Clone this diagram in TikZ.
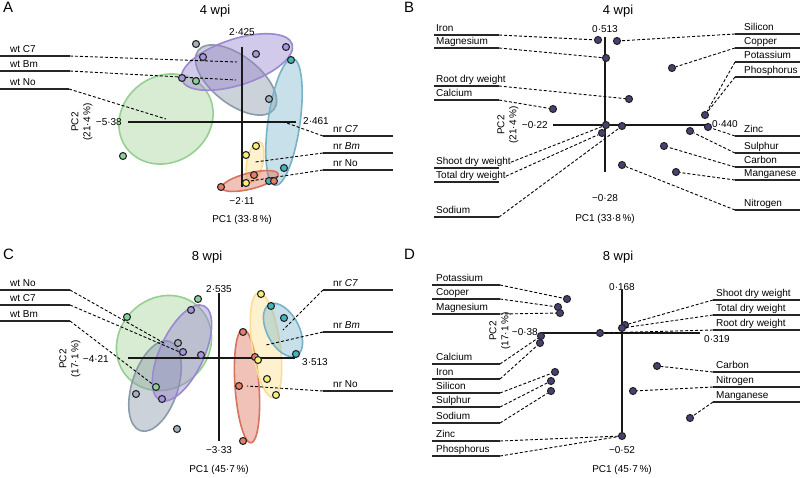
\documentclass[tikz,border=0pt]{standalone}
\usepackage{fontspec}
\setmainfont{Liberation Sans}
\definecolor{gE}{RGB}{150,208,145}
\definecolor{gF}{RGB}{160,212,150}
\definecolor{pE}{RGB}{155,135,210}
\definecolor{pF}{RGB}{150,130,205}
\definecolor{yE}{RGB}{140,155,168}
\definecolor{yF}{RGB}{135,150,165}
\definecolor{tE}{RGB}{120,178,200}
\definecolor{tF}{RGB}{125,182,205}
\definecolor{oE}{RGB}{250,222,150}
\definecolor{oF}{RGB}{252,222,140}
\definecolor{sE}{RGB}{215,115,95}
\definecolor{sF}{RGB}{222,110,85}
\definecolor{dP}{RGB}{165,150,225}
\definecolor{dT}{RGB}{70,180,190}
\definecolor{dG}{RGB}{135,210,150}
\definecolor{dY}{RGB}{245,240,120}
\definecolor{dS}{RGB}{230,125,105}
\definecolor{dR}{RGB}{165,178,190}
\definecolor{dN}{RGB}{70,65,115}
\newcommand{\ulabel}[6]{%
  \draw[uline] (#3,#5) coordinate (#1-s) -- (#4,#5) coordinate (#1-e);
  \node[lab, anchor=base west] (#1) at (#6,#5-3.2) {#2};}
\begin{document}
\begin{tikzpicture}[x=1pt,y=-1pt,
  lab/.style={font=\fontsize{10}{12}\selectfont, inner sep=0pt},
  ttl/.style={font=\fontsize{13}{15}\selectfont, inner sep=0pt},
  panlet/.style={font=\fontsize{15}{17}\selectfont, inner sep=0pt, anchor=north west},
  uline/.style={line width=2.2pt, draw=black!85},
  lead/.style={dash pattern=on 3pt off 2pt, line width=0.9pt},
  axisline/.style={line width=2pt, draw=black!90},
  ptdot/.style={circle, draw=black!85, line width=1.1pt, minimum size=7pt, inner sep=0pt},
  ell/.style={line width=1.6pt, fill opacity=0.42},
  pclab/.style={lab, align=center, rotate=90, font=\fontsize{10}{12}\selectfont},
]
\fill[white] (0,0) rectangle (800,477);
\useasboundingbox (0,0) rectangle (800,477);

% ================= Panel A =================
\node[panlet] (letA) at (3,2) {A};
\node[ttl] (ttlA) at (215,11) {4 wpi};
\coordinate (eAg) at (166,119);
\coordinate (eAp) at (237,62);
\coordinate (eAr) at (236,80);
\coordinate (eAt) at (284,122);
\coordinate (eAy) at (255,162);
\coordinate (eAs) at (250,181);
\path[ell, draw=gE, fill=gF, rotate around={35:(eAg)}] (eAg) ellipse [x radius=49pt, y radius=43pt];
\path[ell, draw=yE, fill=yF, rotate around={-38:(eAr)}] (eAr) ellipse [x radius=48pt, y radius=24pt];
\path[ell, draw=pE, fill=pF, rotate around={18:(eAp)}] (eAp) ellipse [x radius=58pt, y radius=23pt];
\path[ell, draw=tE, fill=tF, rotate around={-8:(eAt)}] (eAt) ellipse [x radius=16pt, y radius=64pt];
\path[ell, draw=oE, fill=oF, rotate around={-12:(eAy)}] (eAy) ellipse [x radius=8pt, y radius=21pt];
\path[ell, draw=sE, fill=sF, rotate around={14:(eAs)}] (eAs) ellipse [x radius=29pt, y radius=8pt];
\draw[axisline] (128,122) coordinate (axAl) -- (296,122) coordinate (axAr);
\draw[axisline] (242,47) coordinate (axAt) -- (242,187) coordinate (axAb);
\node[lab, anchor=east] (nAl) at (122,122) {−5·38};
\node[lab, anchor=west] (nAr) at (303,121) {2·461};
\node[lab, anchor=south] (nAt) at (242,36) {2·425};
\node[lab, anchor=north] (nAb) at (242,197) {−2·11};
\node[lab] (pc1A) at (242,220) {PC1 (33·8\,\%)};
\node[pclab] (pc2A) at (82,122) {PC2\\(21·4\,\%)};
\ulabel{wA7}{wt C7}{0}{70}{56}{10}
\ulabel{wAB}{wt Bm}{0}{70}{71}{10}
\ulabel{wAN}{wt No}{0}{69}{89}{10}
\ulabel{nA7}{nr \textit{C7}}{323}{393}{136}{333}
\ulabel{nAB}{nr \textit{Bm}}{323}{393}{153}{333}
\ulabel{nAN}{nr No}{323}{393}{170}{333}
\draw[lead] (wA7-e) -- (eAp);
\draw[lead] (wAB-e) -- (eAr);
\draw[lead] (wAN-e) -- (eAg);
\draw[lead] (nA7-s) -- (eAt);
\draw[lead] (nAB-s) -- (eAy);
\draw[lead] (nAN-s) -- (eAs);
\node[ptdot, fill=dR] (a1) at (196,44) {};
\node[ptdot, fill=dP] (a2) at (203,57) {};
\node[ptdot, fill=dP] (a3) at (256,54) {};
\node[ptdot, fill=dP] (a4) at (286,47) {};
\node[ptdot, fill=dT] (a5) at (291,60) {};
\node[ptdot, fill=dR] (a6) at (269,99) {};
\node[ptdot, fill=dP] (a7) at (182,78) {};
\node[ptdot, fill=dG] (a8) at (196,81) {};
\node[ptdot, fill=dG] (a9) at (123,156) {};
\node[ptdot, fill=dY] (a10) at (256,146) {};
\node[ptdot, fill=dY] (a11) at (246,155) {};
\node[ptdot, fill=dS] (a12) at (254,175) {};
\node[ptdot, fill=dY] (a13) at (246,183) {};
\node[ptdot, fill=dS] (a14) at (221,187) {};
\node[ptdot, fill=dT] (a15) at (269,181) {};
\node[ptdot, fill=dS] (a16) at (274,181) {};
\node[ptdot, fill=dT] (a17) at (284,168) {};

% ================= Panel B =================
\node[panlet] (letB) at (404,2) {B};
\node[ttl] (ttlB) at (618,11) {4 wpi};
\draw[axisline] (553,125) coordinate (axBl) -- (709,125) coordinate (axBr);
\draw[axisline] (605,37) coordinate (axBt) -- (605,172) coordinate (axBb);
\node[lab, anchor=east] (nBl) at (548,125) {−0·22};
\node[lab, anchor=west] (nBr) at (712,124) {0·440};
\node[lab, anchor=south] (nBt) at (605,33) {0·513};
\node[lab, anchor=north] (nBb) at (605,194) {−0·28};
\node[lab] (pc1B) at (605,219) {PC1 (33·8\,\%)};
\node[pclab] (pc2B) at (508,125) {PC2\\(21·4\,\%)};
\ulabel{bIron}{Iron}{434}{499}{35}{436}
\ulabel{bMag}{Magnesium}{434}{499}{48}{436}
\ulabel{bRoot}{Root dry weight}{434}{499}{86}{436}
\ulabel{bCal}{Calcium}{434}{499}{100}{436}
\ulabel{bShoot}{Shoot dry weight}{434}{499}{168}{436}
\ulabel{bTot}{Total dry weight}{434}{499}{182}{436}
\ulabel{bSod}{Sodium}{434}{499}{217}{436}
\ulabel{bSil}{Silicon}{735}{800}{34}{744}
\ulabel{bCop}{Copper}{735}{800}{48}{744}
\ulabel{bPot}{Potassium}{735}{800}{62}{744}
\ulabel{bPho}{Phosphorus}{735}{800}{77}{744}
\ulabel{bZn}{Zinc}{735}{800}{136}{744}
\ulabel{bSul}{Sulphur}{735}{800}{153}{744}
\ulabel{bCar}{Carbon}{735}{800}{167}{744}
\ulabel{bMan}{Manganese}{735}{800}{180}{744}
\ulabel{bNit}{Nitrogen}{735}{800}{210}{744}
\node[ptdot, fill=dN] (b1) at (598,40) {};
\node[ptdot, fill=dN] (b2) at (617,41) {};
\node[ptdot, fill=dN] (b3) at (606,58) {};
\node[ptdot, fill=dN] (b4) at (672,68) {};
\node[ptdot, fill=dN] (b5) at (629,99) {};
\node[ptdot, fill=dN] (b6) at (553,109) {};
\node[ptdot, fill=dN] (b7) at (705,115) {};
\node[ptdot, fill=dN] (b8) at (606,125) {};
\node[ptdot, fill=dN] (b9) at (602,133) {};
\node[ptdot, fill=dN] (b10) at (622,126) {};
\node[ptdot, fill=dN] (b11) at (690,131) {};
\node[ptdot, fill=dN] (b12) at (708,127) {};
\node[ptdot, fill=dN] (b13) at (664,146) {};
\node[ptdot, fill=dN] (b14) at (676,172) {};
\node[ptdot, fill=dN] (b15) at (622,165) {};
\draw[lead] (bIron-e) -- (b1);
\draw[lead] (bMag-e) -- (b3);
\draw[lead] (bRoot-e) -- (b5);
\draw[lead] (bCal-e) -- (b6);
\draw[lead] (bShoot.east) -- (b8);
\draw[lead] (bTot.east) -- (b9);
\draw[lead] (bSod-e) -- (b10);
\draw[lead] (bSil-s) -- (b2);
\draw[lead] (bCop-s) -- (b4);
\draw[lead] (bPot-s) -- (b7);
\draw[lead] (bPho-s) -- (b7);
\draw[lead] (bZn-s) -- (b12);
\draw[lead] (bSul-s) -- (b11);
\draw[lead] (bCar-s) -- (b13);
\draw[lead] (bMan-s) -- (b14);
\draw[lead] (bNit-s) -- (b15);

% ================= Panel C =================
\node[panlet] (letC) at (3,249) {C};
\node[ttl] (ttlC) at (207,257) {8 wpi};
\coordinate (eCg) at (164,343);
\coordinate (eCp) at (182,353);
\coordinate (eCr) at (155,386);
\coordinate (eCs) at (247,386);
\coordinate (eCy) at (266,345);
\coordinate (eCt) at (283,330);
\path[ell, draw=gE, fill=gF, rotate around={45:(eCg)}] (eCg) ellipse [x radius=50pt, y radius=45pt];
\path[ell, draw=yE, fill=yF, rotate around={72:(eCr)}] (eCr) ellipse [x radius=47pt, y radius=23pt];
\path[ell, draw=pE, fill=pF, rotate around={65:(eCp)}] (eCp) ellipse [x radius=52pt, y radius=22pt];
\path[ell, draw=sE, fill=sF, rotate around={4:(eCs)}] (eCs) ellipse [x radius=12pt, y radius=57pt];
\path[ell, draw=oE, fill=oF, rotate around={8:(eCy)}] (eCy) ellipse [x radius=14pt, y radius=53pt];
\path[ell, draw=tE, fill=tF, rotate around={28:(eCt)}] (eCt) ellipse [x radius=16pt, y radius=29pt];
\draw[axisline] (128,358) coordinate (axCl) -- (295,358) coordinate (axCr);
\draw[axisline] (219,293) coordinate (axCt) -- (219,441) coordinate (axCb);
\node[lab, anchor=east] (nCl) at (109,359) {−4·21};
\node[lab, anchor=west] (nCr) at (302,362) {3·513};
\node[lab, anchor=south] (nCt) at (219,293) {2·535};
\node[lab, anchor=north] (nCb) at (219,446) {−3·33};
\node[lab] (pc1C) at (219,470) {PC1 (45·7\,\%)};
\node[pclab] (pc2C) at (70,359) {PC2\\(17·1\,\%)};
\ulabel{wCN}{wt No}{0}{70}{290}{10}
\ulabel{wC7}{wt C7}{0}{70}{305}{10}
\ulabel{wCB}{wt Bm}{0}{70}{321}{10}
\ulabel{nC7}{nr \textit{C7}}{323}{393}{290}{333}
\ulabel{nCB}{nr \textit{Bm}}{323}{393}{332}{333}
\ulabel{nCN}{nr No}{323}{393}{391}{333}
\draw[lead] (wCN-e) -- (eCg);
\draw[lead] (wC7-e) -- (eCp);
\draw[lead] (wCB-e) -- (eCr);
\draw[lead] (nC7-s) -- (eCt);
\draw[lead] (nCB-s) -- (eCy);
\draw[lead] (nCN-s) -- (eCs);
\node[ptdot, fill=dG] (c1) at (127,317) {};
\node[ptdot, fill=dG] (c2) at (198,299) {};
\node[ptdot, fill=dP] (c3) at (191,310) {};
\node[ptdot, fill=dR] (c4) at (178,343) {};
\node[ptdot, fill=dP] (c5) at (183,352) {};
\node[ptdot, fill=dP] (c6) at (201,355) {};
\node[ptdot, fill=dG] (c7) at (156,387) {};
\node[ptdot, fill=dR] (c8) at (136,394) {};
\node[ptdot, fill=dP] (c9) at (162,399) {};
\node[ptdot, fill=dR] (c10) at (177,429) {};
\node[ptdot, fill=dY] (c11) at (261,294) {};
\node[ptdot, fill=dT] (c12) at (271,306) {};
\node[ptdot, fill=dT] (c13) at (284,318) {};
\node[ptdot, fill=dS] (c14) at (243,332) {};
\node[ptdot, fill=dT] (c15) at (296,354) {};
\node[ptdot, fill=dS] (c16) at (255,357) {};
\node[ptdot, fill=dY] (c17) at (258,360) {};
\node[ptdot, fill=dY] (c18) at (267,379) {};
\node[ptdot, fill=dS] (c19) at (239,386) {};
\node[ptdot, fill=dY] (c20) at (276,395) {};
\node[ptdot, fill=dS] (c21) at (243,441) {};

% ================= Panel D =================
\node[panlet] (letD) at (404,249) {D};
\node[ttl] (ttlD) at (618,257) {8 wpi};
\draw[axisline] (540,333) coordinate (axDl) -- (700,333) coordinate (axDr);
\draw[axisline] (622,290) coordinate (axDt) -- (622,440) coordinate (axDb);
\node[lab, anchor=east] (nDl) at (538,332) {−0·38};
\node[lab, anchor=west] (nDr) at (704,339) {0·319};
\node[lab, anchor=south] (nDt) at (622,291) {0·168};
\node[lab, anchor=north] (nDb) at (622,446) {−0·52};
\node[lab] (pc1D) at (622,470) {PC1 (45·7\,\%)};
\node[pclab] (pc2D) at (500,331) {PC2\\(17·1\,\%)};
\ulabel{dPot}{Potassium}{432}{500}{285}{436}
\ulabel{dCop}{Cooper}{432}{500}{299}{436}
\ulabel{dMag}{Magnesium}{432}{500}{314}{436}
\ulabel{dCal}{Calcium}{432}{500}{364}{436}
\ulabel{dIron}{Iron}{432}{500}{379}{436}
\ulabel{dSil}{Silicon}{432}{500}{393}{436}
\ulabel{dSul}{Sulphur}{432}{500}{407}{436}
\ulabel{dSod}{Sodium}{432}{500}{423}{436}
\ulabel{dZn}{Zinc}{432}{500}{441}{436}
\ulabel{dPho}{Phosphorus}{432}{500}{456}{436}
\ulabel{dShoot}{Shoot dry weight}{713}{800}{300}{716}
\ulabel{dTot}{Total dry weight}{713}{800}{315}{716}
\ulabel{dRoot}{Root dry weight}{713}{800}{330}{716}
\ulabel{dCar}{Carbon}{713}{800}{372}{716}
\ulabel{dNit}{Nitrogen}{713}{800}{387}{716}
\ulabel{dMan}{Manganese}{713}{800}{402}{716}
\node[ptdot, fill=dN] (d1) at (567,299) {};
\node[ptdot, fill=dN] (d2) at (558,307) {};
\node[ptdot, fill=dN] (d3) at (560,313) {};
\node[ptdot, fill=dN] (d4) at (541,336) {};
\node[ptdot, fill=dN] (d5) at (540,343) {};
\node[ptdot, fill=dN] (d6) at (555,372) {};
\node[ptdot, fill=dN] (d7) at (551,381) {};
\node[ptdot, fill=dN] (d8) at (551,391) {};
\node[ptdot, fill=dN] (d9) at (622,436) {};
\node[ptdot, fill=dN] (d10) at (625,325) {};
\node[ptdot, fill=dN] (d11) at (622,328) {};
\node[ptdot, fill=dN] (d12) at (600,333) {};
\node[ptdot, fill=dN] (d13) at (657,366) {};
\node[ptdot, fill=dN] (d14) at (633,391) {};
\node[ptdot, fill=dN] (d15) at (690,418) {};
\draw[lead] (dPot-e) -- (d1);
\draw[lead] (dCop-e) -- (d2);
\draw[lead] (dMag-e) -- (d3);
\draw[lead] (dCal-e) -- (d4);
\draw[lead] (dIron-e) -- (d5);
\draw[lead] (dSil-e) -- (d6);
\draw[lead] (dSul-e) -- (d7);
\draw[lead] (dSod-e) -- (d8);
\draw[lead] (dZn-e) -- (d9);
\draw[lead] (dPho-e) -- (d9);
\draw[lead] (dShoot-s) -- (d10);
\draw[lead] (dTot-s) -- (d11);
\draw[lead] (dRoot-s) -- (d12);
\draw[lead] (dCar-s) -- (d13);
\draw[lead] (dNit-s) -- (d14);
\draw[lead] (dMan-s) -- (d15);
\end{tikzpicture}
\end{document}
